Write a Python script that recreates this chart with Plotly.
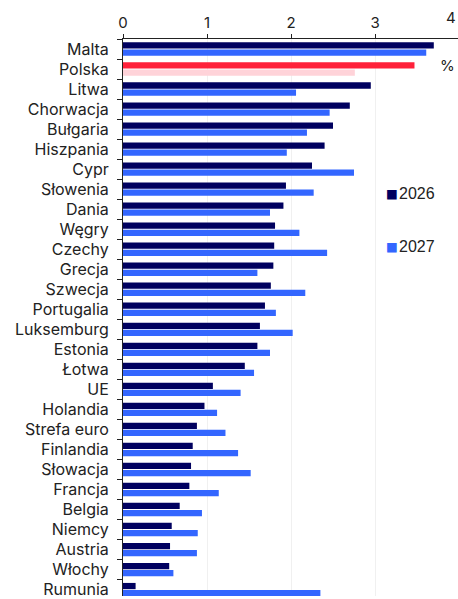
import plotly.graph_objects as go

categories = ["Malta", "Polska", "Litwa", "Chorwacja", "Bułgaria", "Hiszpania", "Cypr",
              "Słowenia", "Dania", "Węgry", "Czechy", "Grecja", "Szwecja", "Portugalia",
              "Luksemburg", "Estonia", "Łotwa", "UE", "Holandia", "Strefa euro", "Finlandia",
              "Słowacja", "Francja", "Belgia", "Niemcy", "Austria", "Włochy", "Rumunia"]
v2026 = [3.70, 3.47, 2.95, 2.70, 2.50, 2.40, 2.25, 1.94, 1.91, 1.81, 1.80, 1.79, 1.76, 1.69,
         1.63, 1.60, 1.45, 1.07, 0.97, 0.88, 0.83, 0.81, 0.79, 0.675, 0.58, 0.56, 0.55, 0.15]
v2027 = [3.61, 2.76, 2.06, 2.46, 2.19, 1.95, 2.75, 2.27, 1.75, 2.10, 2.43, 1.60, 2.17, 1.82,
         2.02, 1.75, 1.56, 1.40, 1.12, 1.22, 1.37, 1.52, 1.14, 0.94, 0.89, 0.88, 0.60, 2.35]
x_ticks = [0, 1, 2, 3, 4]
series_names = ["2026", "2027"]

NAVY = "#00005f"
BLUE = "#3366ff"
RED = "#ff213a"
PINK = "#ffd3d9"
TXT = "#222222"
highlight = "Polska"

c2026 = [RED if c == highlight else NAVY for c in categories]
c2027 = [PINK if c == highlight else BLUE for c in categories]

fig = go.Figure()
fig.add_trace(go.Bar(y=categories, x=v2026, orientation="h", name=series_names[0],
                     marker=dict(color=c2026, line=dict(width=0)), showlegend=False))
fig.add_trace(go.Bar(y=categories, x=v2027, orientation="h", name=series_names[1],
                     marker=dict(color=c2027, line=dict(width=0)), showlegend=False))

# legend as text entries (square + label)
for name, col, ypx in [(series_names[0], NAVY, 194), (series_names[1], BLUE, 248)]:
    yp = 1 - (ypx - 39) / 560
    fig.add_annotation(
        x=(391.5 - 123) / 335, xref="paper", xanchor="center",
        y=yp, yref="paper", yanchor="middle",
        text="■", showarrow=False,
        font=dict(family="DejaVu Sans", size=12.5, color=col))
    fig.add_annotation(
        x=(397 - 123) / 335, xref="paper", xanchor="left",
        y=yp, yref="paper", yanchor="middle",
        text=name, showarrow=False,
        font=dict(family="Liberation Sans", size=16, color=TXT))

fig.add_annotation(x=(447 - 123) / 335, y=1, xref="paper", yref="y", text="%",
                   showarrow=False, xanchor="center", yshift=4,
                   font=dict(family="Inter", size=15, color=TXT))
fig.add_annotation(x=1.0, y=1, xref="paper", yref="paper",
                   xanchor="right", yanchor="bottom", yshift=10,
                   text=str(x_ticks[-1]), showarrow=False,
                   font=dict(family="Inter", size=15, color=TXT))

fig.update_layout(
    width=458, height=599,
    margin=dict(l=123, r=0, t=39, b=0),
    paper_bgcolor="white", plot_bgcolor="white",
    barmode="group", bargap=0.29, bargroupgap=0.12,
    font=dict(family="Inter", size=16, color=TXT),
    showlegend=False,
    xaxis=dict(side="top", range=[0, 335 / 84], tickvals=x_ticks,
               ticks="outside", ticklen=4, tickcolor=TXT,
               showline=True, linecolor=TXT, linewidth=1,
               showgrid=True, gridcolor="#f0f0f0", gridwidth=1,
               zeroline=False,
               tickfont=dict(family="Inter", size=15, color=TXT)),
    yaxis=dict(type="category", categoryorder="array", categoryarray=categories,
               range=[-0.5 + 560 / 20.13, -0.5],
               ticks="outside", ticklen=5, tickcolor=TXT, tickson="boundaries",
               showline=True, linecolor=TXT, linewidth=1,
               showgrid=False, ticklabelstandoff=10,
               tickfont=dict(family="Inter", size=16, color=TXT)),
)

fig.write_html("out.html")
